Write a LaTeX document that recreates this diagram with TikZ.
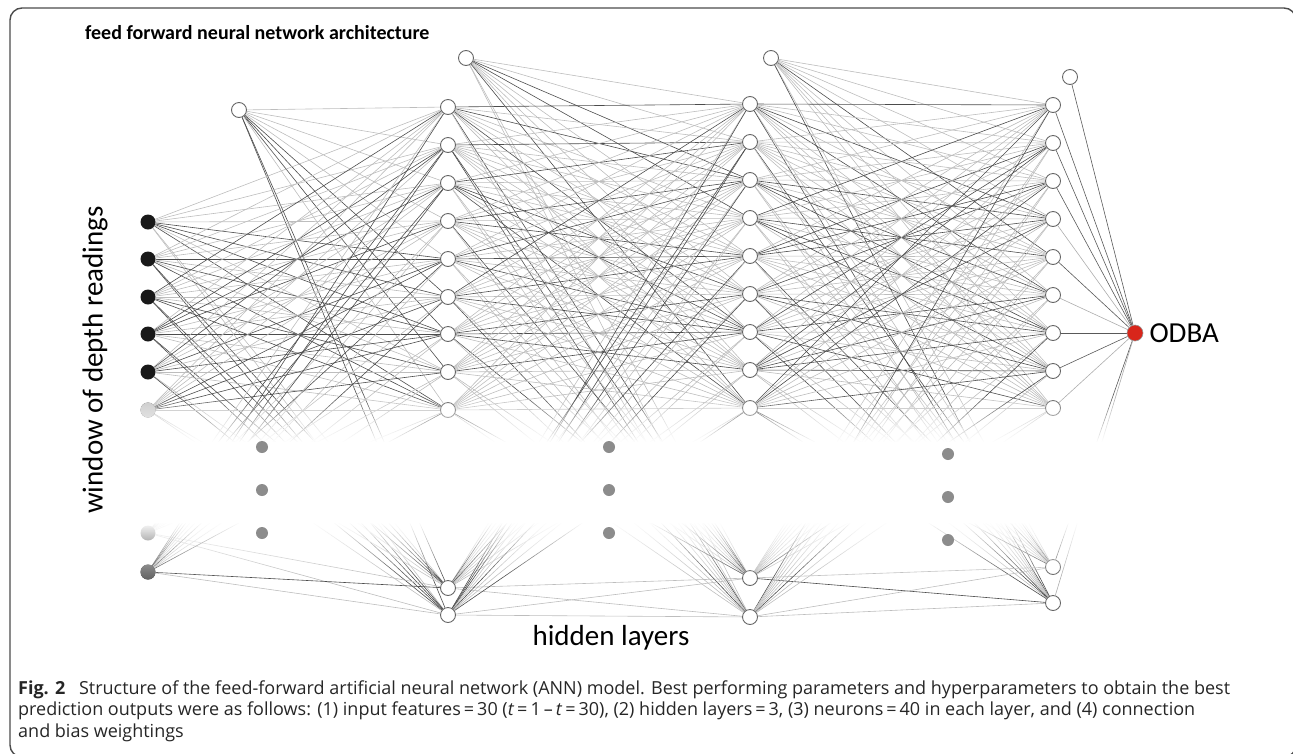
\documentclass[tikz,border=0pt]{standalone}
\usepackage{fontspec}
\setmainfont{Carlito}
\newfontfamily\capfont{Open Sans}
\usetikzlibrary{positioning,fadings}

\definecolor{odbared}{HTML}{D8261B}
\pgfdeclarelayer{edges}
\pgfsetlayers{edges,main}

\tikzfading[name=fadein, top color=transparent!100, bottom color=transparent!0]
\tikzfading[name=fadeout, top color=transparent!0, bottom color=transparent!100]

\tikzset{
    neuron/.style={circle, draw=black!60, fill=white, line width=0.9, minimum size=15, inner sep=0},
    inneuron/.style={circle, fill=black!90, minimum size=15, inner sep=0},
    dotnode/.style={circle, fill=black!45, minimum size=12, inner sep=0},
    outneuron/.style={circle, fill=odbared, draw=black!40, line width=0.6, minimum size=16, inner sep=0},
    weight/.style={draw=black!#1, line width=0.6},
    bigtext/.style={font=\fontsize{29}{32}\selectfont},
}

\begin{document}
\begin{tikzpicture}[x=1pt, y=-1pt]

        \useasboundingbox (0,0) rectangle (1293,753);
        \pgfmathsetseed{17}

        % frame
        \draw [black!70, line width=1.4, rounded corners=12] (10,8) rectangle (1296,757);
        \node [font=\bfseries\fontsize{20}{22}\selectfont, anchor=base west, inner sep=0] (title) at (85,39) {feed forward neural network architecture};

        % input layer
        \foreach \y [count=\i] in {222,259,297,334,372,410,533,572}
            \node [inneuron] (i\i) at (148,\y) {};
        \node [inneuron, fill=black!22] at (i6) {};
        \node [inneuron, fill=black!60] at (i8) {};
        \node [neuron] (b0) at (239,110) {};

        % hidden layers
        \foreach \y [count=\i] in {107,145,183,221,259,297,334,372,410,588,615}
            \node [neuron] (a\i) at (448,\y) {};
        \node [neuron] (b1) at (466,58) {};
        \foreach \y [count=\i] in {104,142,180,218,256,294,332,370,408,578,617}
            \node [neuron] (m\i) at (750,\y) {};
        \node [neuron] (b2) at (771,58) {};
        \foreach \y [count=\i] in {105,143,181,219,257,295,333,371,408,567,603}
            \node [neuron] (c\i) at (1053,\y) {};
        \node [neuron] (b3) at (1070,77) {};

        % output
        \node [outneuron] (odba) at (1135,333) {};
        \node [bigtext, inner sep=0, right=6pt of odba] (odbalabel) {ODBA};

        % weights
        \begin{pgfonlayer}{edges}
            \foreach \s in {b0,i1,i2,i3,i4,i5,i6,i7,i8}
                \foreach \t in {1,...,11}{
                    \pgfmathtruncatemacro\w{rnd<0.3 ? 70 : 26}
                    \draw [weight=\w] (\s) -- (a\t);
                }
            \foreach \s in {b1,a1,a2,a3,a4,a5,a6,a7,a8,a9,a10,a11}
                \foreach \t in {1,...,11}{
                    \pgfmathtruncatemacro\w{rnd<0.3 ? 70 : 26}
                    \draw [weight=\w] (\s) -- (m\t);
                }
            \foreach \s in {b2,m1,m2,m3,m4,m5,m6,m7,m8,m9,m10,m11}
                \foreach \t in {1,...,11}{
                    \pgfmathtruncatemacro\w{rnd<0.3 ? 70 : 26}
                    \draw [weight=\w] (\s) -- (c\t);
                }
            \foreach \s in {b3,c1,c2,c3,c4,c5,c6,c7,c8,c9,c10,c11}{
                \pgfmathtruncatemacro\w{rnd<0.4 ? 65 : 32}
                \draw [weight=\w] (\s) -- (odba);
            }
        \end{pgfonlayer}

        % gap between the shown neurons
        \fill [white, path fading=fadein] (125,395) rectangle (1128,442);
        \fill [white] (125,442) rectangle (1128,522);
        \fill [white, path fading=fadeout] (125,522) rectangle (1128,578);

        \foreach \x/\y [count=\k] in {262/447, 609/447, 948/454}
            \foreach \j in {0,1,2}
                \node [dotnode] (dot\k\j) at (\x,{\y+43*\j}) {};

        % labels
        \node [bigtext, rotate=90] (winlabel) at (95,360) {window of depth readings};
        \node [bigtext] (hidlabel) at (611,638) {hidden layers};

        % caption
        \node [anchor=base west, align=left, inner sep=0, text=black!85, font=\capfont\fontsize{18}{21.5}\selectfont] (caption) at (18,737)
            {\textbf{Fig. 2}\hspace{0.5em} Structure of the feed-forward artificial neural network (ANN) model. Best performing parameters and hyperparameters to obtain the best\\
             prediction outputs were as follows: (1) input features\,=\,30 (\textit{t}\,=\,1\,\textendash\,\textit{t}\,=\,30), (2) hidden layers\,=\,3, (3) neurons\,=\,40 in each layer, and (4) connection\\
             and bias weightings};

\end{tikzpicture}
\end{document}
